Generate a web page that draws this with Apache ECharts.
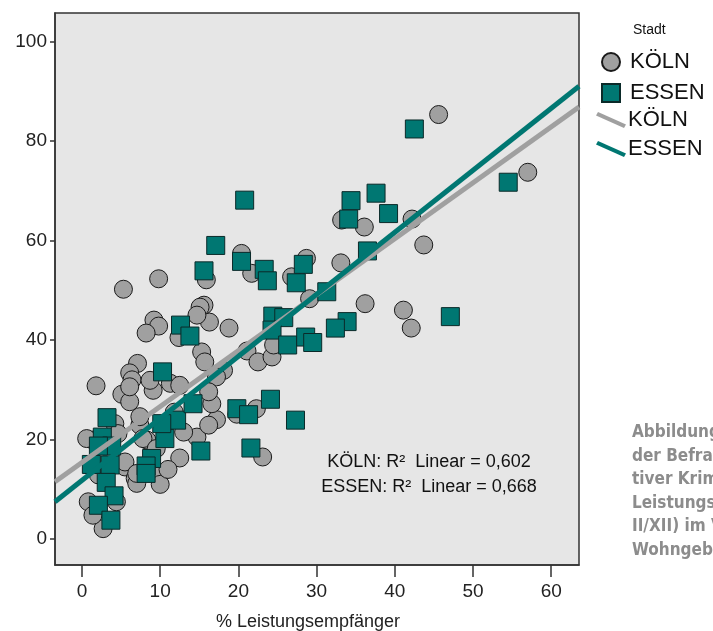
<!DOCTYPE html>
<html><head><meta charset="utf-8">
<script src="https://cdn.jsdelivr.net/npm/echarts@6/dist/echarts.min.js"></script>
<style>html,body{margin:0;padding:0;background:#fff}#c{width:713px;height:631px}</style>
</head><body><div id="c"></div>
<script>
// ---- data ----
const koelnX = [57.0,45.6,33.2,36.1,42.2,43.7,33.1,36.2,41.1,42.1,
  20.4,15.9,21.7,28.7,26.8,29.1,15.6,16.3,18.8,21.1,
  22.5,24.3,24.5,15.3,15.7,18.1,5.3,9.8,9.2,9.8,
  8.2,12.4,7.1,6.1,6.4,1.8,15.1,14.7,5.1,6.1,
  9.1,11.3,12.5,8.7,1.4,0.8,2.7,1.4,4.4,5.5,
  6.8,7.0,5.5,7.0,7.4,7.4,8.3,9.8,10.0,14.7,
  4.2,4.6,22.3,23.1,19.8,17.2,16.6,16.2,17.2,16.2,
  0.6,2.1,7.8,11.8,13.0,12.5,9.5,11.0,6.1];
const koelnY = [73.7,85.3,64.1,62.7,64.3,59.1,55.5,47.3,46.0,42.4,
  57.4,52.1,53.4,56.4,52.7,48.3,47.0,43.6,42.4,37.8,
  35.6,36.6,39.0,37.6,35.6,33.9,50.2,52.3,44.0,42.8,
  41.4,40.5,35.3,33.4,32.0,30.8,46.6,45.0,29.1,27.6,
  29.9,31.3,30.9,31.9,19.9,7.5,2.1,4.8,7.5,14.5,
  12.2,11.2,15.5,13.2,22.9,24.6,19.9,12.9,11.0,20.5,
  23.2,21.2,26.2,16.5,25.1,24.0,27.2,22.9,32.6,29.6,
  20.2,12.9,20.2,25.5,21.5,16.3,18.2,14.0,30.6];
const essenX = [54.5,42.5,34.4,37.6,34.1,39.2,36.5,31.3,47.1,33.9,
  32.4,20.8,17.1,20.4,15.6,23.3,23.7,28.3,27.4,24.4,
  25.8,24.3,26.3,28.6,29.5,12.6,13.8,10.3,3.2,2.6,
  3.8,2.1,1.2,3.6,3.1,4.1,2.1,3.7,10.6,12.1,
  10.2,8.9,8.2,8.2,15.2,24.1,19.8,21.3,27.3,21.6,
  14.2];
const essenY = [71.7,82.4,68.0,69.5,64.3,65.4,57.9,49.7,44.7,43.7,
  42.4,68.1,59.0,55.8,53.9,54.2,51.9,55.2,51.5,44.8,
  44.5,42.0,39.0,40.6,39.5,43.0,40.8,33.6,24.4,20.5,
  18.7,18.7,15.0,14.9,11.4,8.7,6.8,3.8,20.2,23.9,
  23.2,16.2,14.7,13.2,17.7,28.1,26.2,25.0,23.9,18.3,
  27.2];
const cityNames = ['KÖLN','ESSEN'];
const fitIntercept = [15.4, 11.8];
const fitSlope = [1.124, 1.246];
const r2Values = ['0,602','0,668'];
const xTicks = [0,10,20,30,40,50,60];
const yTicks = [0,20,40,60,80,100];
const xTitle = '% Leistungsempfänger';
const legendTitle = 'Stadt';
const captionLines = ['Abbildung','der Befrag','tiver Krimi','Leistungse','II/XII) im V','Wohngebi'];

// ---- chart ----
const X_MIN = -3.45, X_MAX = 63.55, Y_MIN = -5.2, Y_MAX = 105.7;
const FONT = '"Liberation Sans", Arial, sans-serif';
const GREY = '#a0a0a0', TEAL = '#007772';
const zip = (xs, ys) => xs.map((x, i) => [x, ys[i]]);
const fitLine = i => [[X_MIN, fitIntercept[i] + fitSlope[i] * X_MIN], [X_MAX, fitIntercept[i] + fitSlope[i] * X_MAX]];
const lineIcon = 'path://M2,0 L30,12.5 L28,16 L0,3.5 Z';

const chart = echarts.init(document.getElementById('c'), null, {renderer: 'canvas'});
chart.setOption({
  animation: false,
  grid: {left: 55, top: 13, right: 134, bottom: 66, containLabel: false, outerBoundsMode: 'none',
         show: true, backgroundColor: '#e6e6e6', borderColor: '#333', borderWidth: 1.5},
  xAxis: {
    type: 'value', min: X_MIN, max: X_MAX,
    name: xTitle, nameLocation: 'middle', nameGap: 48,
    nameTextStyle: {fontSize: 18, color: '#222', fontFamily: FONT, padding: [0, 18, 0, 0]},
    axisLine: {show: true, onZero: false, lineStyle: {color: '#333', width: 1.5}},
    axisTick: {show: true, customValues: xTicks, length: 12, lineStyle: {color: '#333', width: 1.5}},
    axisLabel: {customValues: xTicks, margin: 17, fontSize: 19, color: '#222', fontFamily: FONT},
    splitLine: {show: false}
  },
  yAxis: {
    type: 'value', min: Y_MIN, max: Y_MAX,
    axisLine: {show: true, onZero: false, lineStyle: {color: '#333', width: 1.5}},
    axisTick: {show: true, customValues: yTicks, length: 5, lineStyle: {color: '#333', width: 1.5}},
    axisLabel: {customValues: yTicks, margin: 8, fontSize: 19, color: '#222', fontFamily: FONT},
    splitLine: {show: false}
  },
  legend: [
    {
      data: [{name: cityNames[0], icon: 'circle'}, {name: cityNames[1], icon: 'rect'}],
      orient: 'vertical', left: 596, top: 46, itemWidth: 18, itemHeight: 18, itemGap: 9,
      selectedMode: false,
      textStyle: {fontSize: 22, color: '#111', fontFamily: FONT, padding: [0, 0, 0, 5]}
    },
    {
      data: [{name: cityNames[0] + '_fit', icon: lineIcon}, {name: cityNames[1] + '_fit', icon: lineIcon}],
      formatter: n => n.replace('_fit', ''),
      orient: 'vertical', left: 591, top: 104, itemWidth: 30, itemHeight: 16, itemGap: 7,
      selectedMode: false,
      textStyle: {fontSize: 22, color: '#111', fontFamily: FONT, padding: [0, 0, 0, -3]}
    }
  ],
  graphic: [
    {type: 'text', left: 633, top: 23, style: {text: legendTitle, fontSize: 14, fill: '#111', fontFamily: FONT}},
    {type: 'text', x: 429, y: 462, style: {text: cityNames[0] + ': R²  Linear = ' + r2Values[0], fontSize: 18, fill: '#111', fontFamily: FONT, align: 'center', verticalAlign: 'middle'}},
    {type: 'text', x: 429, y: 487, style: {text: cityNames[1] + ': R²  Linear = ' + r2Values[1], fontSize: 18, fill: '#111', fontFamily: FONT, align: 'center', verticalAlign: 'middle'}}
  ].concat(captionLines.map((t, i) => ({
    type: 'text', x: 632, y: 433 + i * 23.5,
    style: {text: t, fontSize: 17, fontWeight: 'bold', fill: '#8c8c8c', fontFamily: '"Liberation Sans Narrow", "DejaVu Sans Condensed", sans-serif', verticalAlign: 'middle'}
  }))),
  series: [
    {name: cityNames[0], type: 'scatter', z: 2, data: zip(koelnX, koelnY), symbol: 'circle', symbolSize: 18,
     itemStyle: {color: GREY, borderColor: '#1a1a1a', borderWidth: 1, opacity: 1}},
    {name: cityNames[1], type: 'scatter', z: 3, data: zip(essenX, essenY), symbol: 'rect', symbolSize: 18,
     itemStyle: {color: TEAL, borderColor: '#0b2a29', borderWidth: 1, opacity: 1}},
    {name: cityNames[0] + '_fit', type: 'line', z: 4, data: fitLine(0), showSymbol: false, symbol: 'none', clip: true,
     color: GREY, lineStyle: {color: GREY, width: 5}, itemStyle: {color: GREY}},
    {name: cityNames[1] + '_fit', type: 'line', z: 5, data: fitLine(1), showSymbol: false, symbol: 'none', clip: true,
     color: TEAL, lineStyle: {color: TEAL, width: 5}, itemStyle: {color: TEAL}}
  ]
});
</script></body></html>
